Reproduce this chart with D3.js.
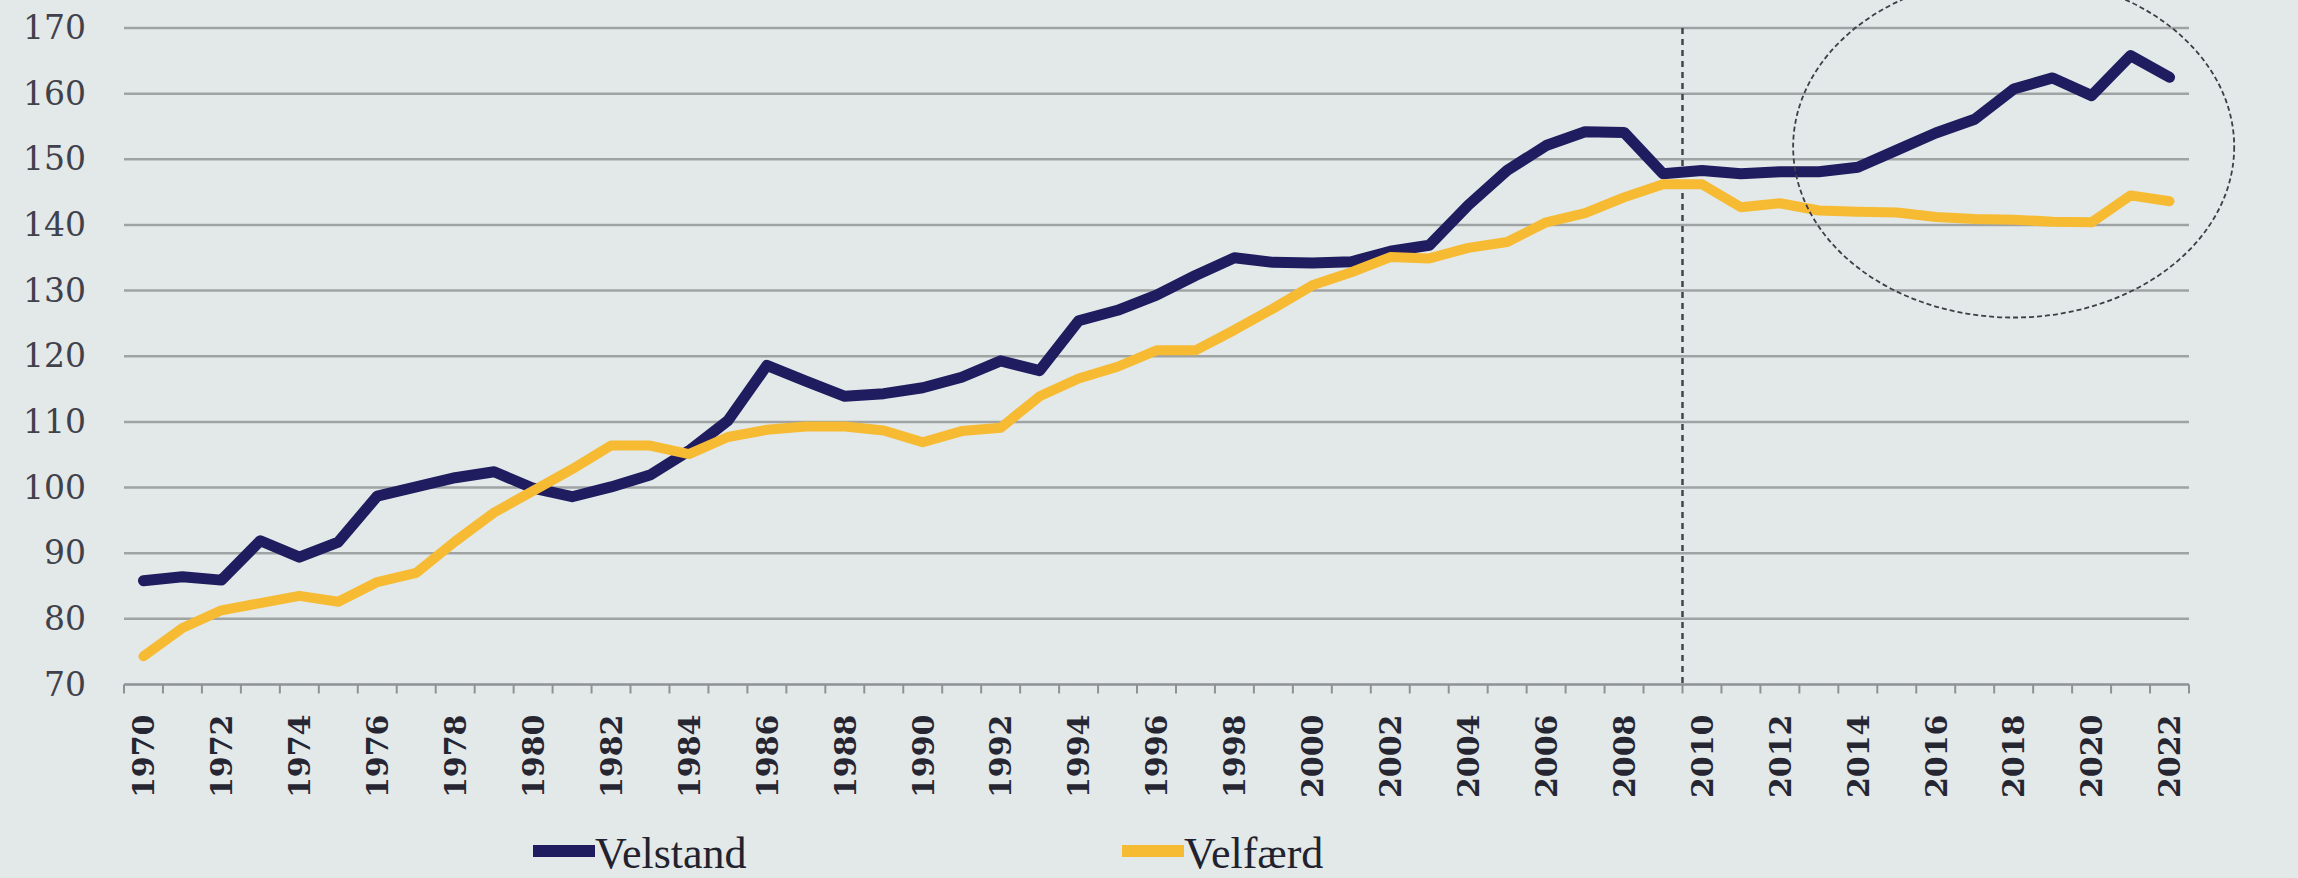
<!DOCTYPE html>
<html>
<head>
<meta charset="utf-8">
<script src="https://cdn.jsdelivr.net/npm/d3@7"></script>
<style>
  html, body { margin: 0; padding: 0; background: #e3e8e8; }
  svg { display: block; }
</style>
</head>
<body>
<svg id="chart" width="2298" height="878"></svg>
<script>
// years on the x axis
var years = [1970,1971,1972,1973,1974,1975,1976,1977,1978,1979,
  1980,1981,1982,1983,1984,1985,1986,1987,1988,1989,
  1990,1991,1992,1993,1994,1995,1996,1997,1998,1999,
  2000,2001,2002,2003,2004,2005,2006,2007,2008,2009,
  2010,2011,2012,2013,2014,2015,2016,2017,2018,2019,
  2020,2021,2022];

var velstand = [85.8,86.4,85.9,91.9,89.4,91.7,98.7,100.1,101.5,102.4,
  99.9,98.6,100.1,101.9,105.6,110.2,118.6,116.2,113.9,114.3,
  115.2,116.8,119.3,117.8,125.4,127.0,129.3,132.3,135.0,134.3,
  134.2,134.4,136.0,136.9,143.0,148.3,152.1,154.2,154.1,147.8,
  148.3,147.8,148.1,148.1,148.8,151.4,154.0,156.1,160.7,162.4,
  159.7,165.8,162.5];

var velfaerd = [74.3,78.6,81.3,82.4,83.5,82.6,85.6,87.0,91.8,96.2,
  99.5,102.8,106.4,106.4,105.1,107.7,108.8,109.3,109.3,108.7,
  106.9,108.6,109.1,113.9,116.6,118.4,120.9,120.9,124.0,127.3,
  130.8,132.8,135.1,134.9,136.5,137.4,140.4,141.8,144.2,146.2,
  146.2,142.7,143.3,142.2,142.0,141.9,141.2,140.9,140.8,140.5,
  140.4,144.5,143.6];

var yTicks = [70,80,90,100,110,120,130,140,150,160,170];
var seriesNames = ["Velstand", "Velfærd"];
var seriesColors = ["#1f1c5f", "#f6bb33"];

// annotations: dashed split at 2010, ellipse round the last years
var splitYear = 2010;
var ringYear = 2018, ringValue = 151.9, ringYears = 5.66, ringUnits = 26;

var svg = d3.select("#chart");
var plotLeft = 124, plotRight = 2189, plotTop = 28, plotBottom = 684.5;

var x = d3.scaleBand().domain(years).range([plotLeft, plotRight]).paddingInner(0).paddingOuter(0);
var y = d3.scaleLinear().domain([70, 170]).range([plotBottom, plotTop]);

// gridlines
svg.append("g").selectAll("line")
  .data(yTicks.filter(function(d) { return d > 70; }))
  .join("line")
  .attr("x1", plotLeft).attr("x2", plotRight)
  .attr("y1", function(d) { return y(d); })
  .attr("y2", function(d) { return y(d); })
  .attr("stroke", "#9fa3a4")
  .attr("stroke-width", 2.5);

// y labels
var yAxis = svg.append("g")
  .attr("transform", "translate(" + (plotLeft - 38) + ",0)")
  .call(d3.axisLeft(y).tickValues(yTicks).tickSize(0).tickPadding(0));
yAxis.select(".domain").remove();
yAxis.selectAll("text")
  .attr("font-family", "DejaVu Serif")
  .attr("font-size", 33)
  .attr("fill", "#40414b");

// x axis line and ticks at band edges
svg.append("line")
  .attr("x1", plotLeft).attr("x2", plotRight)
  .attr("y1", plotBottom).attr("y2", plotBottom)
  .attr("stroke", "#8e9294").attr("stroke-width", 2.5);

var edges = years.map(function(d) { return x(d); }).concat([x(years[years.length - 1]) + x.bandwidth()]);
svg.append("g").selectAll("line")
  .data(edges)
  .join("line")
  .attr("x1", function(d) { return d; }).attr("x2", function(d) { return d; })
  .attr("y1", plotBottom).attr("y2", plotBottom + 9)
  .attr("stroke", "#8e9294").attr("stroke-width", 2);

// x labels, every second year, rotated
svg.append("g").selectAll("text")
  .data(years.filter(function(d) { return d % 2 === 0; }))
  .join("text")
  .attr("transform", function(d) {
    return "translate(" + (x(d) + x.bandwidth() / 2) + "," + (plotBottom + 30) + ") rotate(-90)";
  })
  .attr("text-anchor", "end")
  .attr("dy", "0.36em")
  .attr("font-family", "DejaVu Serif")
  .attr("font-weight", "bold")
  .attr("font-size", 30)
  .attr("fill", "#262633")
  .text(function(d) { return d; });

// dashed split line
svg.append("line")
  .attr("x1", x(splitYear)).attr("x2", x(splitYear))
  .attr("y1", y(170)).attr("y2", plotBottom)
  .attr("stroke", "#44444c")
  .attr("stroke-width", 2.5)
  .attr("stroke-dasharray", "6,5");

// series lines
var line = d3.line()
  .x(function(d, i) { return x(years[i]) + x.bandwidth() / 2; })
  .y(function(d) { return y(d); });

[velstand, velfaerd].forEach(function(s, k) {
  svg.append("path")
    .datum(s)
    .attr("d", line)
    .attr("fill", "none")
    .attr("stroke", seriesColors[k])
    .attr("stroke-width", k === 0 ? 11 : 10)
    .attr("stroke-linejoin", "round")
    .attr("stroke-linecap", "round");
});

// ellipse
svg.append("ellipse")
  .attr("cx", x(ringYear) + x.bandwidth() / 2)
  .attr("cy", y(ringValue))
  .attr("rx", ringYears * x.bandwidth())
  .attr("ry", y(0) - y(ringUnits))
  .attr("fill", "none")
  .attr("stroke", "#3e3e46")
  .attr("stroke-width", 1.8)
  .attr("stroke-dasharray", "5,3");

// legend
var legendX = [533, 1122];
seriesNames.forEach(function(name, k) {
  svg.append("line")
    .attr("x1", legendX[k]).attr("x2", legendX[k] + 62)
    .attr("y1", 851).attr("y2", 851)
    .attr("stroke", seriesColors[k])
    .attr("stroke-width", 12);
  svg.append("text")
    .attr("x", legendX[k] + 62)
    .attr("y", 868)
    .attr("font-family", "Liberation Serif")
    .attr("font-size", 44)
    .attr("fill", "#22222e")
    .text(name);
});
</script>
</body>
</html>
